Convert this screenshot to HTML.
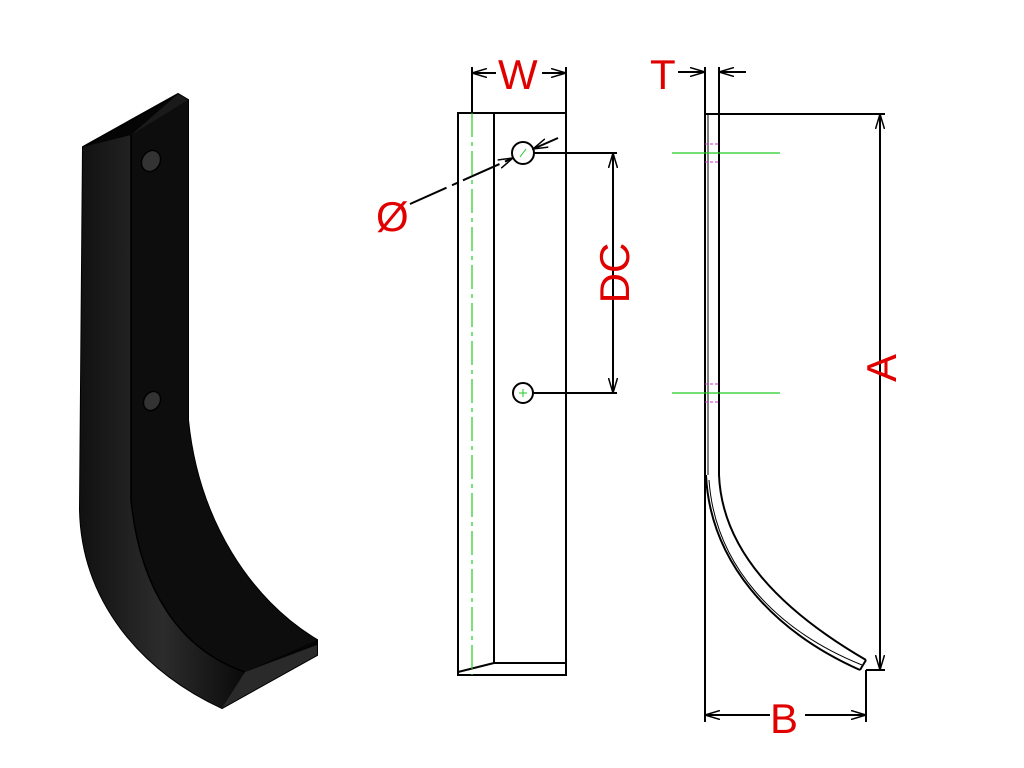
<!DOCTYPE html>
<html><head><meta charset="utf-8"><style>html,body{margin:0;padding:0;background:#fff}svg{display:block}</style></head>
<body>
<svg width="1024" height="768" viewBox="0 0 1024 768" xmlns="http://www.w3.org/2000/svg">
<defs>
<marker id="ar" markerWidth="16" markerHeight="10" refX="15" refY="5" orient="auto-start-reverse" markerUnits="userSpaceOnUse">
<path d="M0,0.5 L15,5 L0,9.5" fill="none" stroke="#000" stroke-width="1.5"/>
</marker>
<linearGradient id="g1" x1="0" x2="1"><stop offset="0" stop-color="#111"/><stop offset="0.5" stop-color="#2c2c2c"/><stop offset="1" stop-color="#0a0a0a"/></linearGradient>
</defs>
<path d="M83,147 L178,94 L188,100 L188,420 C198,520 250,600 317,640 L317,655 L222,708 C140,670 82,600 80,510 Z" fill="#050505" stroke="#000" stroke-width="2"/>
<path d="M83,147 L131,135 L131,500 C140,590 180,650 245,672 L222,708 C140,670 82,600 80,510 Z" fill="url(#g1)"/>
<path d="M131,135 L188,100 L188,420 C198,520 250,600 317,640 L245,672 C180,650 140,590 131,500 Z" fill="#0d0d0d"/>
<path d="M131,135 L178,94 L188,100 Z" fill="#1a1a1a"/>
<path d="M245,672 L317,645 L317,655 L222,708 Z" fill="#2a2a2a"/>
<path d="M131,135 L131,500 C140,590 180,650 245,672" fill="none" stroke="#000" stroke-width="1.5"/>
<ellipse cx="151" cy="161" rx="9" ry="11" transform="rotate(30 151 161)" fill="#333" stroke="#000" stroke-width="1.5"/>
<ellipse cx="152" cy="401" rx="8" ry="10" transform="rotate(30 152 401)" fill="#333" stroke="#000" stroke-width="1.5"/>

<g fill="none" stroke="#000" stroke-width="2">
<rect x="458" y="113" width="108" height="562"/>
<line x1="494" y1="113" x2="494" y2="663"/>
<line x1="494" y1="663" x2="566" y2="663"/>
<line x1="458" y1="672" x2="494" y2="663"/>
<circle cx="523" cy="153" r="11"/>
<circle cx="523" cy="393" r="10"/>
<line x1="534" y1="153" x2="617" y2="153"/>
<line x1="533" y1="393" x2="617" y2="393"/>
<line x1="613" y1="153" x2="613" y2="393" marker-start="url(#ar)" marker-end="url(#ar)"/>
<line x1="472" y1="113" x2="472" y2="67"/>
<line x1="566" y1="113" x2="566" y2="67"/>
<line x1="496" y1="73" x2="472" y2="73" marker-end="url(#ar)"/>
<line x1="542" y1="73" x2="566" y2="73" marker-end="url(#ar)"/>
<line x1="410" y1="204" x2="513" y2="158" stroke-dasharray="40,6,6,6" marker-end="url(#ar)"/>
<line x1="558" y1="138" x2="533" y2="149" marker-end="url(#ar)"/>
</g>
<line x1="472" y1="113" x2="472" y2="675" stroke="#2c2" stroke-width="1.2" stroke-dasharray="24,5,4,5"/>
<line x1="519" y1="393" x2="527" y2="393" stroke="#2c2"/><line x1="523" y1="389" x2="523" y2="397" stroke="#2c2"/>
<line x1="520" y1="157" x2="526" y2="149" stroke="#2c2"/>

<g fill="none" stroke="#000" stroke-width="2">
<line x1="705" y1="114" x2="705" y2="475"/>
<line x1="708" y1="114" x2="708" y2="475" stroke-width="1"/>
<line x1="719" y1="114" x2="719" y2="475"/>
<line x1="705" y1="114" x2="885" y2="114"/>
<path d="M706,475 C710,560 770,630 860,670"/>
<path d="M709,480 C715,565 775,630 862,665" stroke-width="1"/>
<path d="M719,475 C722,550 780,610 866,660"/>
<line x1="860" y1="670" x2="866" y2="660"/>
<line x1="866" y1="670" x2="885" y2="670"/>
<line x1="705" y1="114" x2="705" y2="722"/>
<line x1="866" y1="670" x2="866" y2="722"/>
<line x1="880" y1="114" x2="880" y2="670" marker-start="url(#ar)" marker-end="url(#ar)"/>
<line x1="770" y1="715" x2="705" y2="715" marker-end="url(#ar)"/>
<line x1="805" y1="715" x2="866" y2="715" marker-end="url(#ar)"/>
<line x1="705" y1="67" x2="705" y2="114"/>
<line x1="719" y1="67" x2="719" y2="114"/>
<line x1="678" y1="72" x2="705" y2="72" marker-end="url(#ar)"/>
<line x1="746" y1="72" x2="719" y2="72" marker-end="url(#ar)"/>
</g>
<line x1="672" y1="153" x2="780" y2="153" stroke="#2c2" stroke-width="1.2"/>
<line x1="672" y1="393" x2="780" y2="393" stroke="#2c2" stroke-width="1.2"/>
<g stroke="#c3c" stroke-width="1" stroke-dasharray="3,2">
<line x1="705" y1="144" x2="719" y2="144"/><line x1="705" y1="162" x2="719" y2="162"/>
<line x1="705" y1="384" x2="719" y2="384"/><line x1="705" y1="402" x2="719" y2="402"/>
</g>

<g fill="#e00000" font-family="Liberation Sans, sans-serif" font-size="42">
<text x="498" y="89">W</text>
<text x="650" y="89">T</text>
<text x="770" y="733">B</text>
<text x="376" y="231">Ø</text>
<text transform="translate(629,273) rotate(-90)" text-anchor="middle" x="0" y="0">DC</text>
<text transform="translate(896,368) rotate(-90)" text-anchor="middle" x="0" y="0">A</text>
</g>
</svg>
</body></html>
